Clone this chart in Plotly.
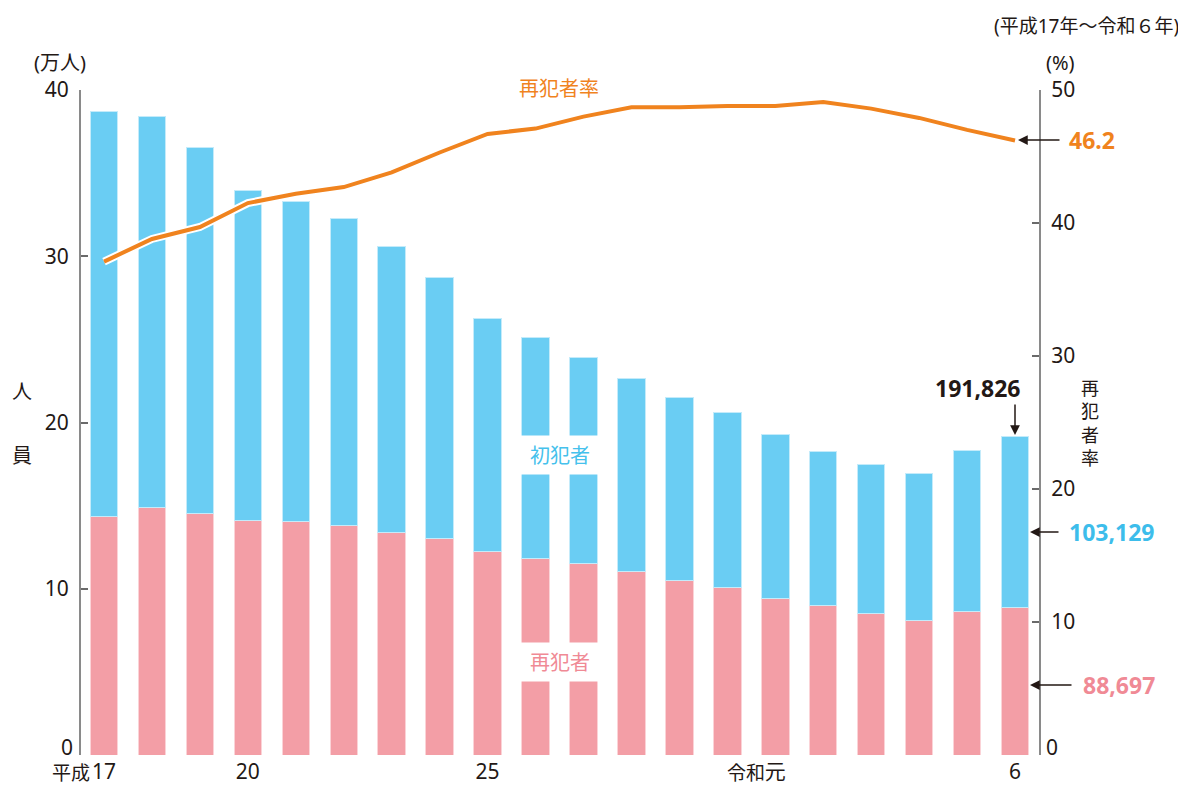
import plotly.graph_objects as go

# ---- data ----
years = ["平成17", "18", "19", "20", "21", "22", "23", "24", "25", "26", "27", "28", "29", "30",
         "令和元", "2", "3", "4", "5", "6"]
# 再犯者 (万人)
reoffenders = [14.36, 14.91, 14.51, 14.10, 14.05, 13.78, 13.39, 13.00, 12.26, 11.83,
               11.49, 11.02, 10.47, 10.06, 9.40, 8.97, 8.51, 8.11, 8.61, 8.8697]
# 初犯者 (万人)
first_offenders = [24.34, 23.52, 22.05, 19.88, 19.24, 18.48, 17.17, 15.70, 13.99, 13.28,
                   12.45, 11.62, 11.03, 10.55, 9.86, 9.29, 8.99, 8.83, 9.72, 10.3129]
# 再犯者率 (%)
reoffense_rate = [37.1, 38.8, 39.7, 41.5, 42.2, 42.7, 43.8, 45.3, 46.7, 47.1,
                  48.0, 48.7, 48.7, 48.8, 48.8, 49.1, 48.6, 47.9, 47.0, 46.2]
tick_idx = [0, 3, 8, 14, 19]
tick_text = ["17", "20", "25", "元", "6"]
left_ticks = [0, 10, 20, 30, 40]
left_text = ["", "10", "20", "30", "40"]
right_ticks = [0, 10, 20, 30, 40, 50]
right_text = ["", "10", "20", "30", "40", "50"]

xs = list(range(len(years)))

BLUE = "#6ACDF3"
PINK = "#F39EA6"
ORANGE = "#F0831E"
INK = "#231815"
FONT = "Noto Sans, Noto Sans CJK JP, sans-serif"

OFF = 8  # page body margin
W, H = 1186, 785
L, T = 81 - OFF, 90 - OFF
PW, PH = 958, 665
R = W - L - PW
B = H - T - PH


def px(x, y):
    """page pixel -> paper coordinates"""
    x, y = x - OFF, y - OFF
    return (x - L) / PW, (T + PH - y) / PH


fig = go.Figure()
fig.add_bar(x=xs, y=reoffenders, name="再犯者", width=0.573,
            marker=dict(color=PINK, line=dict(color="#FBD3D7", width=1)))
fig.add_bar(x=xs, y=first_offenders, name="初犯者", width=0.573,
            marker=dict(color=BLUE, line=dict(color="#C4EBFA", width=1)))
fig.add_scatter(x=xs, y=reoffense_rate, yaxis="y2", mode="lines",
                line=dict(color="white", width=8), hoverinfo="skip")
fig.add_scatter(x=xs, y=reoffense_rate, yaxis="y2", mode="lines", name="再犯者率",
                line=dict(color=ORANGE, width=4))

ann = []


def text(x, y, s, size=20, color=INK, bold=False, xanchor="center", **kw):
    xp, yp = px(x, y)
    if bold:
        s = "<b>" + s + "</b>"
    ann.append(dict(x=xp, y=yp, xref="paper", yref="paper", text=s, showarrow=False,
                    xanchor=xanchor, yanchor="middle",
                    font=dict(size=size, color=color, family=FONT), **kw))


def arrow(x, y, ax, ay):
    xp, yp = px(x, y)
    ann.append(dict(x=xp, y=yp, xref="paper", yref="paper", text="", showarrow=True,
                    ax=ax, ay=ay, arrowhead=2, arrowsize=1.3, arrowwidth=1.5,
                    arrowcolor=INK))


# zero labels of both value axes (set slightly above the baseline, as in the reference)
text(74, 747, "0", size=21, xanchor="right", borderpad=0)
text(1045, 747, "0", size=21, xanchor="left", borderpad=0)

# era prefixes for the x tick labels
text(91, 773, "平成", size=19, xanchor="right", borderpad=0)
text(766, 773, "令和", size=19, xanchor="right", borderpad=0)

# axis units and period
text(60, 62, "(万人)", size=20)
text(1060, 62, "(%)", size=20)
text(1086, 26, "(平成17年～令和６年)", size=19)

# left axis title
text(22, 392, "人", size=20)
text(22, 455, "員", size=20)
# right axis title (vertical)
text(1090, 423, "再<br>犯<br>者<br>率", size=18)

# series labels
text(559, 88, "再犯者率", size=20, color=ORANGE)
text(559.5, 455, "初犯者", size=20, color="#45C1EC", bgcolor="white", width=76, height=36)
text(559.5, 662, "再犯者", size=20, color="#F08A95", bgcolor="white", width=76, height=36)

# value call-outs
text(978, 388, "191,826", size=23, bold=True)
arrow(1015, 435, 0, -32)
text(1067, 140, "46.2", size=23, bold=True, color=ORANGE, xanchor="left")
arrow(1018, 140, 43, 0)
text(1157, 532, "103,129", size=23, bold=True, color="#3DBDEB", xanchor="right")
arrow(1030, 532, 30, 0)
text(1157, 685, "88,697", size=23, bold=True, color="#F08A95", xanchor="right")
arrow(1030, 685, 43, 0)

axis_common = dict(showgrid=False, zeroline=False, showline=True, linecolor="#8a8a8a",
                   linewidth=2, ticks="inside", ticklen=7, tickwidth=2, tickcolor="#6a6a6a",
                   tickfont=dict(size=21, color=INK, family=FONT), ticklabelstandoff=6,
                   automargin=False, tickmode="array")

fig.update_layout(
    width=W, height=H,
    margin=dict(l=L, r=R, t=T, b=B, autoexpand=False),
    paper_bgcolor="white", plot_bgcolor="white",
    barmode="stack", bargap=0.42, showlegend=False,
    font=dict(family=FONT, color=INK),
    xaxis=dict(range=[-0.48, 19.5], tickmode="array", tickvals=tick_idx, ticktext=tick_text,
               showgrid=False, zeroline=False, showline=False, ticks="",
               tickfont=dict(size=21, color=INK, family=FONT), ticklabelstandoff=2,
               automargin=False),
    yaxis=dict(range=[0, 40], tickvals=left_ticks, ticktext=left_text, **axis_common),
    yaxis2=dict(range=[0, 50], tickvals=right_ticks, ticktext=right_text, overlaying="y",
                side="right", **axis_common),
    annotations=ann,
)

fig.write_html("out.html")
